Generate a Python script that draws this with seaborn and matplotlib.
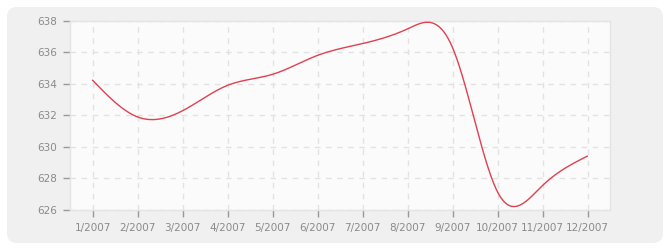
import numpy as np
import pandas as pd
import matplotlib
matplotlib.use("Agg")
import matplotlib.pyplot as plt
from matplotlib.patches import FancyBboxPatch
import seaborn as sns

# ---- data ----
months = [1, 2, 3, 4, 5, 6, 7, 8, 9, 10, 11, 12]
tick_labels = ["1/2007", "2/2007", "3/2007", "4/2007", "5/2007", "6/2007",
               "7/2007", "8/2007", "9/2007", "10/2007", "11/2007", "12/2007"]
values = [634.23, 631.9, 632.29, 633.9, 634.6, 635.8,
          636.55, 637.48, 636.3, 627.15, 627.55, 629.42]
y_ticks = [626, 628, 630, 632, 634, 636, 638]


def natural_spline(x, y, n=600):
    x = np.asarray(x, float)
    y = np.asarray(y, float)
    k = len(x)
    h = np.diff(x)
    A = np.zeros((k, k))
    b = np.zeros(k)
    A[0, 0] = 1
    A[-1, -1] = 1
    for i in range(1, k - 1):
        A[i, i - 1] = h[i - 1]
        A[i, i] = 2 * (h[i - 1] + h[i])
        A[i, i + 1] = h[i]
        b[i] = 6 * ((y[i + 1] - y[i]) / h[i] - (y[i] - y[i - 1]) / h[i - 1])
    M = np.linalg.solve(A, b)
    xs = np.linspace(x[0], x[-1], n)
    idx = np.clip(np.searchsorted(x, xs) - 1, 0, k - 2)
    x0, x1 = x[idx], x[idx + 1]
    hh = x1 - x0
    t0, t1 = x1 - xs, xs - x0
    ys = (M[idx] * t0**3 + M[idx + 1] * t1**3) / (6 * hh) \
        + (y[idx] / hh - M[idx] * hh / 6) * t0 \
        + (y[idx + 1] / hh - M[idx + 1] * hh / 6) * t1
    return xs, ys


sns.set_theme(style="white")
plt.rcParams["font.family"] = ["DejaVu Sans"]
plt.rcParams["hatch.color"] = "#e6e6e6"
plt.rcParams["hatch.linewidth"] = 0.8

fig = plt.figure(figsize=(6.7, 2.5), dpi=100, facecolor="white")
bg = FancyBboxPatch((7 / 670, 7 / 250), 656 / 670, 236 / 250,
                    boxstyle="round,pad=0,rounding_size=0.015",
                    transform=fig.transFigure, facecolor="#f0f0f0",
                    edgecolor="none", zorder=-10, mutation_aspect=670 / 250)
fig.patches.append(bg)

ax = fig.add_axes([70 / 670, 40 / 250, 540 / 670, 189.3 / 250])
ax.set_zorder(5)
ax.set_facecolor("#fbfbfb")
ax.patch.set_hatch("///")

# alternating lighter bands
for lo in y_ticks[:-1][::2]:
    ax.axhspan(lo, lo + 2, facecolor="#fbfbfb", alpha=0.6,
               edgecolor="none", zorder=0.5)

xs, ys = natural_spline(months, values)
df = pd.DataFrame({"month": xs, "value": ys})
sns.lineplot(data=df, x="month", y="value", ax=ax, color="#e0404f",
             linewidth=1.0, zorder=3)

ax.set_xlim(0.5, 12.5)
ax.set_ylim(626, 638)
ax.set_xticks(months)
ax.set_xticklabels(tick_labels)
ax.set_yticks(y_ticks)
ax.set_yticklabels([str(v) for v in y_ticks])
ax.set_xlabel("")
ax.set_ylabel("")

ax.grid(True, color="#e2e2e2", linestyle=(0, (4, 4)), linewidth=1.0, zorder=1)
ax.set_axisbelow(True)
for s in ax.spines.values():
    s.set_color("#e4e4e4")
    s.set_linewidth(1.0)

ax.tick_params(axis="both", which="both", length=5, width=1,
               color="#999999", labelcolor="#8a8a8a", labelsize=7.5,
               direction="out", pad=4)
ax.tick_params(axis="x", bottom=True)
ax.tick_params(axis="y", left=True)

fig.savefig("out.png", dpi=100, facecolor="white")
